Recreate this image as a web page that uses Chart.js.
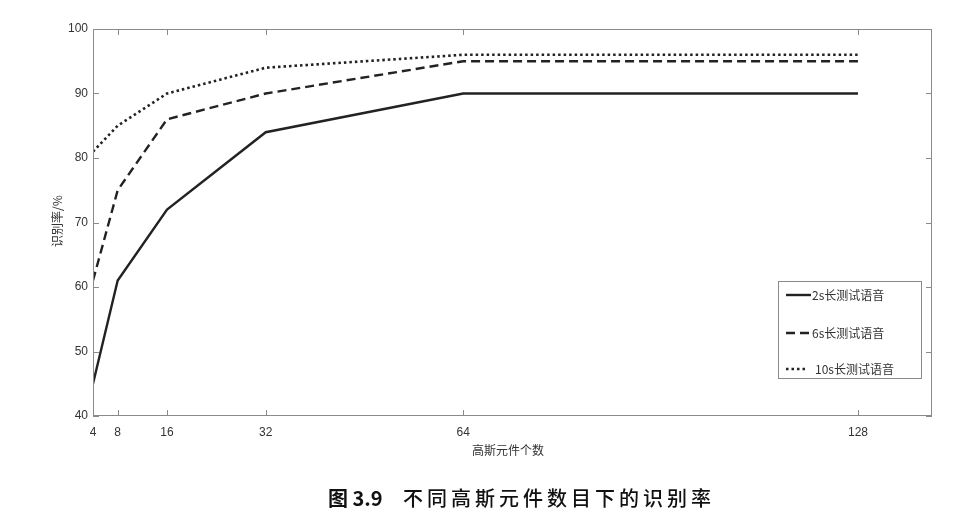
<!DOCTYPE html>
<html>
<head>
<meta charset="utf-8">
<script src="https://cdn.jsdelivr.net/npm/chart.js@4/dist/chart.umd.min.js"></script>
<style>
  html, body { margin: 0; padding: 0; background: #fff; }
  #wrap { width: 954px; height: 524px; position: relative; }
</style>
</head>
<body>
<div id="wrap"><canvas id="c"></canvas></div>
<script>
// Data
const components = [4, 8, 16, 32, 64, 128];
const xTicks = [4, 8, 16, 32, 64, 128];
const yTicks = [40, 50, 60, 70, 80, 90, 100];
const rate2s = [45, 61, 72, 84, 90, 90];
const rate6s = [61, 75, 86, 90, 95, 95];
const rate10s = [81, 85, 90, 94, 96, 96];
const seriesNames = ['2s长测试语音', '6s长测试语音', '10s长测试语音'];

const ink = '#222';
const axisGray = '#8a8a8a';
const font = '"Liberation Sans", Arial, sans-serif';
const cjk = '"Noto Sans CJK SC", sans-serif';

function toPoints(arr) {
    return components.map((x, i) => ({ x: x, y: arr[i] }));
}

// inward ticks on all four sides, plus axis titles, legend and caption
const decor = {
    id: 'decor',
    afterDatasetsDraw(chart) {
        const ctx = chart.ctx;
        const a = chart.chartArea;
        const xs = chart.scales.x, ys = chart.scales.y;
        ctx.save();
        ctx.strokeStyle = axisGray;
        ctx.lineWidth = 1;
        ctx.beginPath();
        xTicks.forEach(v => {
            const px = Math.round(xs.getPixelForValue(v)) + 0.5;
            ctx.moveTo(px, a.bottom); ctx.lineTo(px, a.bottom - 6);
            ctx.moveTo(px, a.top); ctx.lineTo(px, a.top + 6);
        });
        yTicks.forEach(v => {
            const py = Math.round(ys.getPixelForValue(v)) + 0.5;
            ctx.moveTo(a.left, py); ctx.lineTo(a.left + 6, py);
            ctx.moveTo(a.right, py); ctx.lineTo(a.right - 6, py);
        });
        ctx.stroke();
        ctx.strokeRect(a.left + 0.5, a.top + 0.5, a.right - a.left - 1, a.bottom - a.top - 1);

        // axis titles
        ctx.fillStyle = '#333';
        ctx.font = '12px ' + cjk;
        ctx.textAlign = 'center';
        ctx.textBaseline = 'middle';
        ctx.fillText('高斯元件个数', 508, 450);
        ctx.save();
        ctx.translate(57, 221);
        ctx.rotate(-Math.PI / 2);
        ctx.fillText('识别率/%', 0, 0);
        ctx.restore();

        // legend
        const lx = 778, ly = 281, lw = 143, lh = 97;
        ctx.fillStyle = '#fff';
        ctx.fillRect(lx, ly, lw, lh);
        ctx.strokeStyle = axisGray;
        ctx.strokeRect(lx + 0.5, ly + 0.5, lw, lh);
        const rowsY = [295, 333, 369];
        chart.data.datasets.forEach((ds, i) => {
            ctx.save();
            ctx.strokeStyle = ds.borderColor;
            ctx.lineWidth = ds.borderWidth;
            ctx.setLineDash(ds.borderDash || []);
            ctx.beginPath();
            ctx.moveTo(786, rowsY[i]);
            ctx.lineTo(i === 2 ? 808 : 811, rowsY[i]);
            ctx.stroke();
            ctx.restore();
            ctx.fillStyle = '#333';
            ctx.font = '12px ' + cjk;
            ctx.textAlign = 'left';
            ctx.fillText(ds.label, i === 2 ? 815 : 812, rowsY[i]);
        });

        // caption
        ctx.fillStyle = '#111';
        ctx.textAlign = 'left';
        ctx.font = 'bold 20px ' + cjk;
        ctx.fillText('图 3.9', 328, 498);
        ctx.font = '500 20px ' + cjk;
        const caption = '不同高斯元件数目下的识别率';
        let cx = 403;
        for (const ch of caption) {
            ctx.fillText(ch, cx, 498);
            cx += 24;
        }
        ctx.restore();
    }
};

const common = {
    borderColor: ink,
    fill: false,
    pointRadius: 0,
    tension: 0,
    borderCapStyle: 'butt'
};

new Chart(document.getElementById('c'), {
    type: 'line',
    data: {
        datasets: [
            Object.assign({ label: seriesNames[0], data: toPoints(rate2s), borderWidth: 2.4 }, common),
            Object.assign({ label: seriesNames[1], data: toPoints(rate6s), borderWidth: 2.4, borderDash: [9, 5] }, common),
            Object.assign({ label: seriesNames[2], data: toPoints(rate10s), borderWidth: 2.6, borderDash: [2.5, 3] }, common)
        ]
    },
    options: {
        responsive: true,
        maintainAspectRatio: false,
        animation: false,
        layout: { padding: { top: 29, right: 22, bottom: 0, left: 0 } },
        plugins: {
            legend: { display: false },
            tooltip: { enabled: false }
        },
        scales: {
            x: {
                type: 'linear',
                min: 4,
                max: 140,
                afterBuildTicks: (s) => { s.ticks = xTicks.map(v => ({ value: v })); },
                afterFit: (s) => { s.height = 108; },
                grid: { display: false, drawTicks: false },
                border: { display: false },
                ticks: { color: '#333', font: { family: font, size: 12 }, padding: 9, maxRotation: 0, autoSkip: false }
            },
            y: {
                min: 40,
                max: 100,
                afterBuildTicks: (s) => { s.ticks = yTicks.map(v => ({ value: v })); },
                afterFit: (s) => { s.width = 93; },
                grid: { display: false, drawTicks: false },
                border: { display: false },
                ticks: { color: '#333', font: { family: font, size: 12 }, padding: 5 }
            }
        }
    },
    plugins: [decor]
});
</script>
</body>
</html>
